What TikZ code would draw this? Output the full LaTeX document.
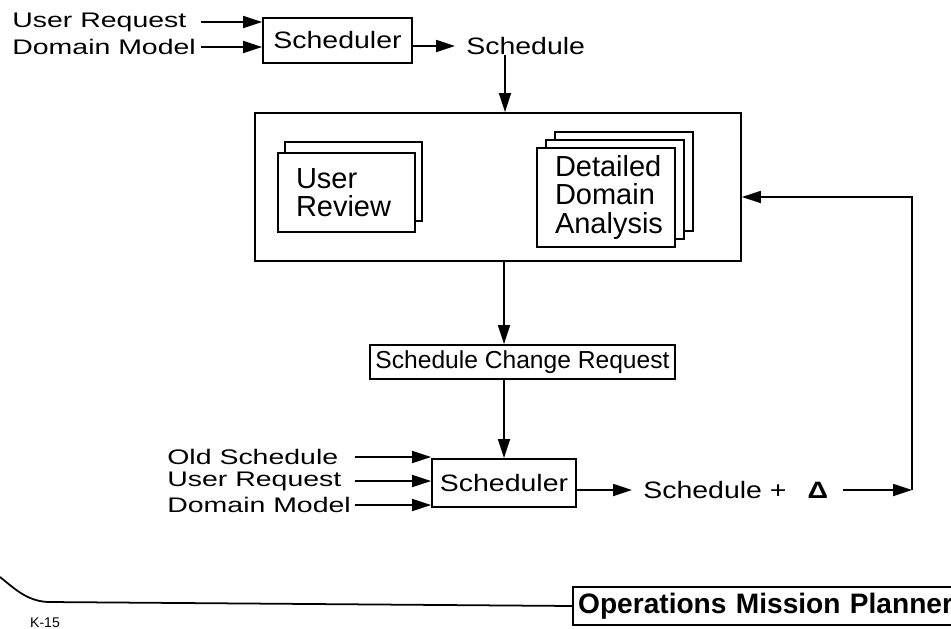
\documentclass[tikz,border=0pt]{standalone}
\usepackage{fontspec}
\setmainfont{Liberation Sans}
\newfontfamily\widesf{Liberation Sans}[FakeStretch=1.2]
\newfontfamily\widersf{Liberation Sans}[FakeStretch=1.35]
\usetikzlibrary{arrows.meta,shadows}

\begin{document}
\begin{tikzpicture}[x=0.02cm, y=-0.02cm,
  lbl/.style={anchor=west, inner sep=0pt, font=\widersf\fontsize{12}{12}\selectfont},
  box/.style={draw, fill=white, line width=1pt, inner sep=0pt,
              font=\widesf\fontsize{13.5}{14}\selectfont},
  sheet/.style={draw, fill=white, line width=1pt, inner xsep=0.36cm, inner ysep=0pt,
                align=left, font=\fontsize{16.5}{16}\selectfont},
  arr/.style={-{Triangle[length=3.8mm,width=2.4mm]}, line width=1pt}
]
\clip (0,0) rectangle (951,629);

% first run
\node[box, minimum width=2.98cm, minimum height=0.9cm] (sch1) at (337.5,40.5) {Scheduler};
\node[lbl] (ur1)   at (12,22)  {User Request};
\node[lbl] (dm1)   at (12,47)  {Domain Model};
\node[lbl, font=\widesf\fontsize{13.5}{14}\selectfont] (sched) at (466,46) {Schedule};

% review stage
\node[box, minimum width=9.72cm, minimum height=2.96cm] (review) at (498,187) {};
\node[sheet, text width=2.02cm, minimum height=1.58cm,
      copy shadow={shadow xshift=0.14cm, shadow yshift=0.22cm, line width=1pt}]
      (urev) at (346.5,192.5) {User\\Review};
\node[sheet, text width=2.04cm, minimum height=1.98cm,
      copy shadow={shadow xshift=0.36cm, shadow yshift=0.32cm, line width=1pt},
      copy shadow={shadow xshift=0.18cm, shadow yshift=0.16cm, line width=1pt}]
      (dda) at (606,197.5) {Detailed\\Domain\\Analysis};

\node[box, minimum width=6.1cm, minimum height=0.68cm, font=\fontsize{14}{14}\selectfont]
      (scr) at (522.5,362) {Schedule Change Request};

% second run
\node[box, minimum width=2.88cm, minimum height=0.96cm] (sch2) at (504,483) {Scheduler};
\node[lbl] (os)   at (167,457) {Old Schedule};
\node[lbl] (ur2)  at (167,481) {User Request};
\node[lbl] (dm2)  at (167,505) {Domain Model};
\node[lbl, font=\widesf\fontsize{13.5}{14}\selectfont] (out2) at (643,490)
      {Schedule +\hspace{0.42cm}\textbf{Δ}};

% footer
\node[draw, line width=1pt, anchor=west, inner xsep=3pt, text width=7.8cm,
      minimum height=0.74cm, font=\bfseries\fontsize{16}{16}\selectfont]
      (omp) at (572,606) {Operations Mission Planner};
\node[font=\fontsize{8}{8}\selectfont] (kno) at (45,623) {K-15};

\coordinate (tin) at (201,0);
\coordinate (bin) at (355,0);
\coordinate (dn)  at (505,0);
\coordinate (fbk) at (912,197);

\draw[arr] (ur1.east -| tin) -- (ur1.east -| sch1.west);
\draw[arr] (dm1.east -| tin) -- (dm1.east -| sch1.west);
\draw[arr, shorten >=0.22cm] (sched.west -| sch1.east) -- (sched.west);
\draw[arr] (sched.south -| dn) -- (review.north -| dn);
\draw[arr] (review.south -| sch2.north) -- (scr.north -| sch2.north);
\draw[arr] (scr.south -| sch2.north) -- (sch2.north);
\draw[arr] (os.east -| bin)  -- (os.east -| sch2.west);
\draw[arr] (ur2.east -| bin) -- (ur2.east -| sch2.west);
\draw[arr] (dm2.east -| bin) -- (dm2.east -| sch2.west);
\draw[arr, shorten >=0.22cm] (out2.west -| sch2.east) -- (out2.west);
\draw[arr] ([xshift=0.3cm]out2.east) -- (out2.east -| fbk);
\draw[arr] (out2.east -| fbk) -- (fbk) -- (fbk -| review.east);

\draw[line width=1pt] (0,577) .. controls (15,589) and (27,601) .. (48,602) -- (omp.west);
\end{tikzpicture}
\end{document}
